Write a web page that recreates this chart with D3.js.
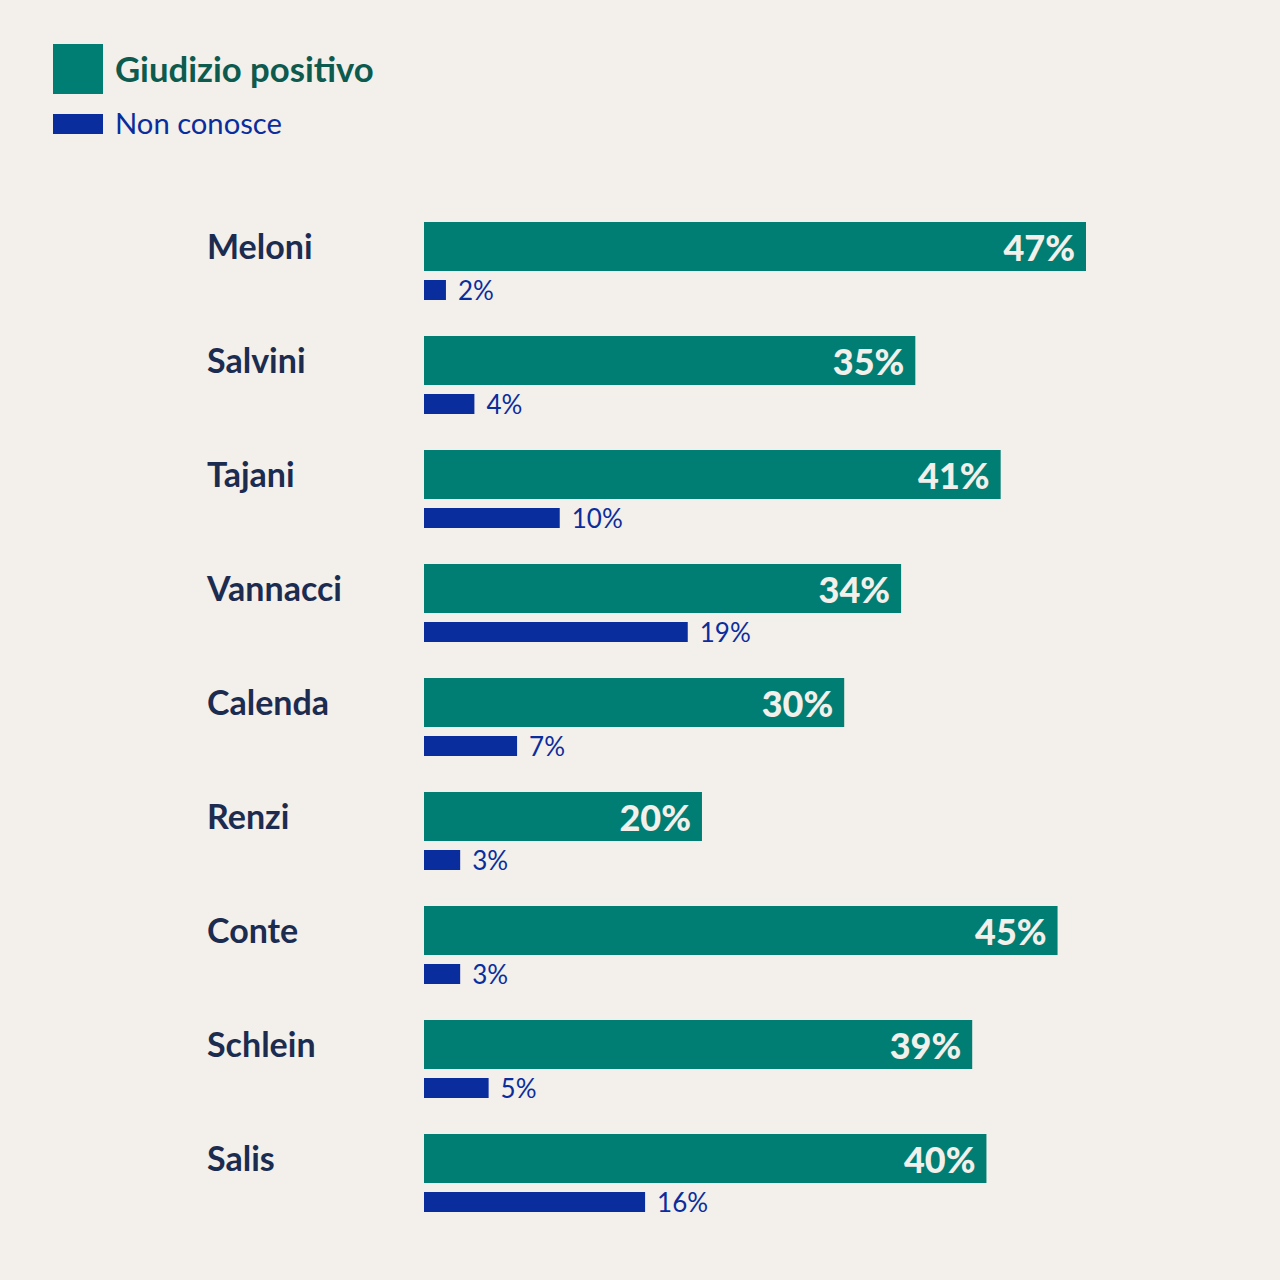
<!DOCTYPE html>
<html>
<head>
<meta charset="utf-8">
<script src="https://cdn.jsdelivr.net/npm/d3@7"></script>
<style>
  html, body { margin: 0; padding: 0; background: #f3efea; }
  svg { display: block; font-family: Lato, "Open Sans", sans-serif; }
</style>
</head>
<body>
<div id="chart"></div>
<script>
// chart data
const names = ["Meloni", "Salvini", "Tajani", "Vannacci", "Calenda", "Renzi", "Conte", "Schlein", "Salis"];
const positivo = [47, 35, 41, 34, 30, 20, 45, 39, 40];
const nonConosce = [2, 4, 10, 19, 7, 3, 3, 5, 16];
const legendLabels = ["Giudizio positivo", "Non conosce"];

const width = 1280, height = 1280;
const green = "#007e73", blue = "#0a2d9e", navy = "#1c2c50";
const barStart = 424;

const svg = d3.select("#chart").append("svg")
    .attr("width", width)
    .attr("height", height);

svg.append("rect").attr("width", width).attr("height", height).attr("fill", "#f3efea");

// scales (zero sits a little left of where the bars begin, as in the original)
const x = d3.scaleLinear().domain([0, 47]).range([417.5, 1086]);
const y = d3.scaleBand().domain(names).range([222, 222 + 114 * names.length]);

const rows = names.map((n, i) => ({ name: n, pos: positivo[i], nc: nonConosce[i] }));

const row = svg.append("g").selectAll("g")
  .data(rows)
  .join("g")
    .attr("transform", d => `translate(0,${y(d.name)})`);

// name labels
row.append("text")
    .attr("x", 207)
    .attr("y", 23)
    .attr("dominant-baseline", "central")
    .attr("fill", navy)
    .attr("font-weight", 700)
    .attr("font-size", 34)
    .text(d => d.name);

// green bars
row.append("rect")
    .attr("x", barStart)
    .attr("y", 0)
    .attr("width", d => x(d.pos) - barStart)
    .attr("height", 49)
    .attr("fill", green);

row.append("text")
    .attr("x", d => x(d.pos) - 11)
    .attr("y", 25)
    .attr("dominant-baseline", "central")
    .attr("text-anchor", "end")
    .attr("fill", "#f3efea")
    .attr("font-weight", 900)
    .attr("font-size", 36)
    .text(d => d.pos + "%");

// blue bars
row.append("rect")
    .attr("x", barStart)
    .attr("y", 58)
    .attr("width", d => x(d.nc) - barStart)
    .attr("height", 20)
    .attr("fill", blue);

row.append("text")
    .attr("x", d => x(d.nc) + 12)
    .attr("y", 68)
    .attr("dominant-baseline", "central")
    .attr("fill", blue)
    .attr("font-size", 26)
    .text(d => d.nc + "%");

// legend
const legend = svg.append("g");
legend.append("rect").attr("x", 53).attr("y", 44).attr("width", 50).attr("height", 50).attr("fill", green);
legend.append("text")
    .attr("x", 115).attr("y", 68)
    .attr("dominant-baseline", "central")
    .attr("fill", "#0d5a4e")
    .attr("font-weight", 700)
    .attr("font-size", 34.7)
    .text(legendLabels[0]);
legend.append("rect").attr("x", 53).attr("y", 114).attr("width", 50).attr("height", 20).attr("fill", blue);
legend.append("text")
    .attr("x", 115).attr("y", 122)
    .attr("dominant-baseline", "central")
    .attr("fill", blue)
    .attr("font-size", 29.2)
    .text(legendLabels[1]);
</script>
</body>
</html>
